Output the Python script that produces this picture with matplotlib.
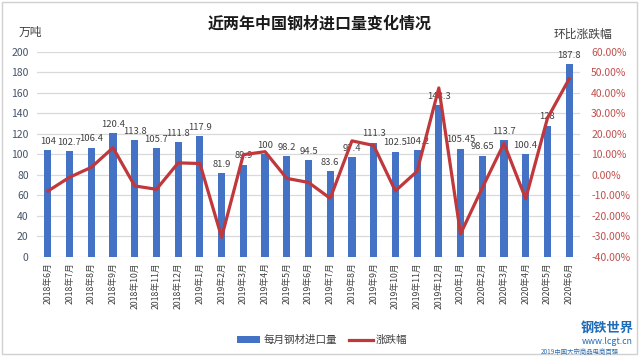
import matplotlib.pyplot as plt
from matplotlib.patches import Rectangle, Patch
from matplotlib.lines import Line2D
from matplotlib.ticker import FuncFormatter

plt.rcParams['font.family'] = ['Noto Sans CJK SC', 'DejaVu Sans']

months = ['2018年6月', '2018年7月', '2018年8月', '2018年9月', '2018年10月', '2018年11月',
          '2018年12月', '2019年1月', '2019年2月', '2019年3月', '2019年4月', '2019年5月',
          '2019年6月', '2019年7月', '2019年8月', '2019年9月', '2019年10月', '2019年11月',
          '2019年12月', '2020年1月', '2020年2月', '2020年3月', '2020年4月', '2020年5月',
          '2020年6月']
imports = [104, 102.7, 106.4, 120.4, 113.8, 105.7, 111.8, 117.9, 81.9, 89.9, 100, 98.2,
           94.5, 83.6, 97.4, 111.3, 102.5, 104.2, 148.3, 105.45, 98.65, 113.7, 100.4, 128,
           187.8]
import_labels = ['104', '102.7', '106.4', '120.4', '113.8', '105.7', '111.8', '117.9', '81.9',
                 '89.9', '100', '98.2', '94.5', '83.6', '97.4', '111.3', '102.5', '104.2',
                 '148.3', '105.45', '98.65', '113.7', '100.4', '128', '187.8']
# month-on-month change, %
change = [-8.0, -1.25, 3.6, 13.16, -5.48, -7.12, 5.77, 5.46, -30.53, 9.77, 11.23, -1.8,
          -3.77, -11.53, 16.51, 14.27, -7.91, 1.66, 42.32, -28.89, -6.45, 15.26, -11.7,
          27.49, 46.72]

bar_color = '#4472C4'
line_color = '#C0383C'
W, H = 640, 358

fig = plt.figure(figsize=(6.4, 3.58), dpi=100)
fig.patches.append(Rectangle((2 / W, 4 / H), 635 / W, 352 / H, transform=fig.transFigure,
                             fill=False, edgecolor='#D0D0D0', lw=1))

ax = fig.add_axes([37 / W, 1 - 256.7 / H, 543 / W, 205 / H])
x = list(range(len(months)))
ax.bar(x, imports, width=0.33, color=bar_color, zorder=2)
ax.set_xlim(-0.5, len(months) - 0.5)
ax.set_ylim(0, 200)
ax.set_yticks(range(0, 201, 20))
ax.grid(axis='y', color='#D9D9D9', lw=0.9, zorder=0)
ax.set_axisbelow(True)
for s in ax.spines.values():
    s.set_visible(False)
ax.tick_params(axis='y', length=0, pad=6, labelsize=7.5, labelcolor='#44546A')
ax.set_xticks(x)
ax.set_xticklabels(months, rotation=90, fontsize=6.3, color='#404040')
ax.tick_params(axis='x', length=0, pad=4)

for xi, v, t in zip(x, imports, import_labels):
    ax.annotate(t, (xi, v), xytext=(0, 3), textcoords='offset points',
                ha='center', va='bottom', fontsize=6.8, color='#404040', zorder=5)

ax2 = ax.twinx()
ax2.plot(x, change, color=line_color, lw=2.3, zorder=3)
ax2.set_ylim(-40, 60)
ax2.set_yticks(range(-40, 61, 10))
ax2.yaxis.set_major_formatter(FuncFormatter(lambda v, p: f'{v:.2f}%'))
ax2.tick_params(axis='y', length=0, pad=8, labelsize=7.5, labelcolor='#C0504D')
for s in ax2.spines.values():
    s.set_visible(False)

fig.text(320 / W, 1 - 24 / H, '近两年中国钢材进口量变化情况', ha='center', va='center',
         fontsize=11.5, fontweight='bold', color='#1A1A1A')
fig.text(30 / W, 1 - 32 / H, '万吨', ha='center', va='center', fontsize=8.5, color='#404040')
fig.text(583 / W, 1 - 34 / H, '环比涨跌幅', ha='center', va='center', fontsize=8.5,
         color='#404040')

handles = [Patch(facecolor=bar_color, edgecolor='none'),
           Line2D([], [], color=line_color, lw=2.3)]
fig.legend(handles, ['每月钢材进口量', '涨跌幅'], loc='center', bbox_to_anchor=(322 / W, 1 - 340 / H),
           ncol=2, frameon=False, fontsize=7.6, handlelength=2.2, handleheight=0.6,
           columnspacing=1.2, handletextpad=0.3, labelcolor='#404040')

fig.text(607 / W, 1 - 328 / H, '钢铁世界', ha='center', va='center', fontsize=9.5,
         fontweight='bold', color='#1E6BB8')
fig.text(607 / W, 1 - 341 / H, 'www.lcgt.cn', ha='center', va='center', fontsize=6.3,
         color='#1E6BB8')
fig.text(580 / W, 1 - 352 / H, '2019中国大宗商品电商百强', ha='center', va='center', fontsize=4.6,
         color='#2F6FB0')

fig.savefig('out.png', dpi=100)
